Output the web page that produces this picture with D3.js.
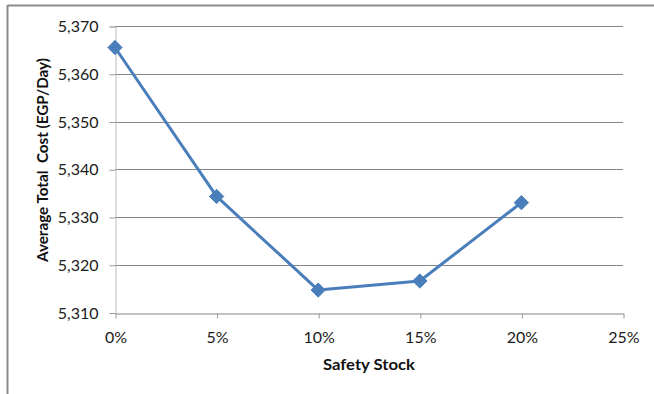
<!DOCTYPE html>
<html>
<head>
<meta charset="utf-8">
<script src="https://cdn.jsdelivr.net/npm/d3@7"></script>
<style>
  html, body { margin: 0; padding: 0; background: #fff; }
  svg { display: block; }
</style>
</head>
<body>
<svg id="chart" width="654" height="394"></svg>
<script>
// Safety stock levels and the resulting average total cost
const safetyStock = [0, 0.05, 0.10, 0.15, 0.20];
const avgCost = [5365.5, 5334.3, 5314.7, 5316.6, 5333.0];
const xTicks = [0, 0.05, 0.10, 0.15, 0.20, 0.25];
const yTicks = [5310, 5320, 5330, 5340, 5350, 5360, 5370];

const svg = d3.select("#chart");
const font = "Lato, 'Open Sans', sans-serif";

// outer chart frame (top and left edges)
svg.append("line").attr("x1", 7.5).attr("x2", 654).attr("y1", 5.5).attr("y2", 5.5)
  .attr("stroke", "#8c8c8c").attr("stroke-width", 2);
svg.append("line").attr("x1", 7.5).attr("x2", 7.5).attr("y1", 5).attr("y2", 394)
  .attr("stroke", "#8c8c8c").attr("stroke-width", 2);

const x = d3.scaleLinear().domain([0, 0.25]).range([115, 623]);
const y = d3.scaleLinear().domain([5310, 5370]).range([312.5, 26]);

// horizontal gridlines
svg.append("g").selectAll("line").data(yTicks.slice(1)).join("line")
  .attr("x1", x(0)).attr("x2", x(0.25))
  .attr("y1", d => Math.round(y(d)) + 0.5).attr("y2", d => Math.round(y(d)) + 0.5)
  .attr("stroke", "#868686").attr("stroke-width", 1);

// value axis
const yAxis = svg.append("g").attr("transform", `translate(${x(0) + 0.5},0.5)`)
  .call(d3.axisLeft(y).tickValues(yTicks).tickSize(6).tickPadding(11)
    .tickFormat(d3.format(",")));
yAxis.select(".domain").attr("stroke", "#bdbdbd");
yAxis.selectAll(".tick line").attr("stroke", "#9a9a9a");
yAxis.selectAll("text").attr("font-family", font).attr("font-size", 16).attr("fill", "#1a1a1a");

// category axis
const xAxis = svg.append("g").attr("transform", `translate(0.5,${Math.round(y(5310)) + 0.5})`)
  .call(d3.axisBottom(x).tickValues(xTicks).tickSize(5).tickSizeOuter(0).tickPadding(13)
    .tickFormat(d3.format(".0%")));
xAxis.select(".domain").attr("stroke", "#868686");
xAxis.selectAll(".tick line").attr("stroke", "#9a9a9a");
xAxis.selectAll("text").attr("font-family", font).attr("font-size", 16).attr("fill", "#1a1a1a");

// cost line
const pts = safetyStock.map((s, i) => [s, avgCost[i]]);
svg.append("path").datum(pts)
  .attr("fill", "none").attr("stroke", "#4a7ebb").attr("stroke-width", 3)
  .attr("stroke-linejoin", "round")
  .attr("d", d3.line().x(d => x(d[0])).y(d => y(d[1])));

// diamond markers
svg.append("g").selectAll("path").data(pts).join("path")
  .attr("transform", d => `translate(${x(d[0])},${y(d[1])})`)
  .attr("d", d3.symbol().type(d3.symbolDiamond2).size(130))
  .attr("fill", "#4a7ebb").attr("stroke", "#4a7ebb").attr("stroke-width", 1);

// axis titles
svg.append("text").attr("x", 369).attr("y", 370)
  .attr("text-anchor", "middle").attr("font-family", font).attr("font-weight", "bold")
  .attr("font-size", 16).attr("fill", "#111")
  .attr("textLength", 92).attr("lengthAdjust", "spacingAndGlyphs")
  .text("Safety Stock");
svg.append("text").attr("transform", "translate(48,160) rotate(-90)")
  .attr("text-anchor", "middle").attr("font-family", font).attr("font-weight", "bold")
  .attr("font-size", 16).attr("fill", "#111").attr("xml:space", "preserve")
  .attr("textLength", 204).attr("lengthAdjust", "spacingAndGlyphs")
  .text("Average Total  Cost (EGP/Day)");
</script>
</body>
</html>
